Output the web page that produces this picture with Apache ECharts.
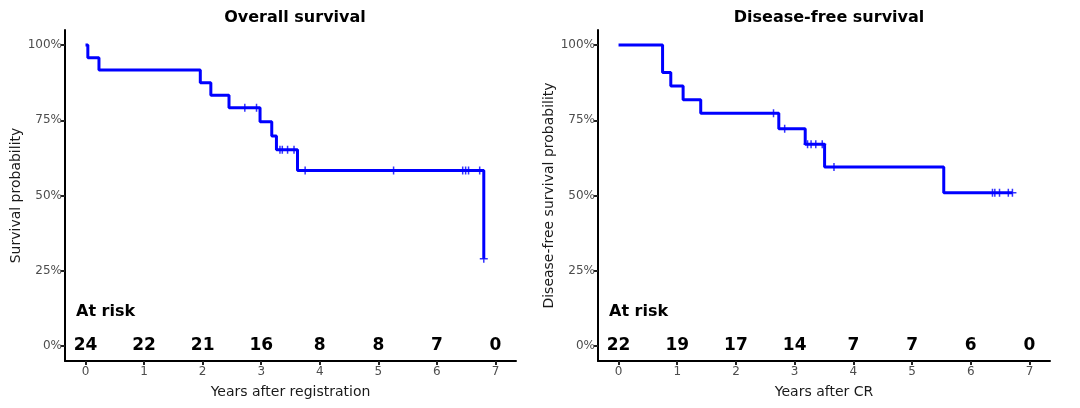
<!DOCTYPE html>
<html>
<head>
<meta charset="utf-8">
<script src="https://cdn.jsdelivr.net/npm/echarts@6/dist/echarts.min.js"></script>
<style>html,body{margin:0;padding:0;background:#fff}#c{width:1080px;height:408px}</style>
</head>
<body>
<div id="c"></div>
<script>
// ---- Overall survival ----
const osTimes = [0, 0.04, 0.23, 1.96, 2.14, 2.45, 2.98, 3.18, 3.26, 3.62, 6.80];
const osSurv  = [1, 0.958, 0.917, 0.875, 0.833, 0.792, 0.745, 0.698, 0.652, 0.583, 0.29];
const osCensorTimes = [2.72, 2.92, 3.32, 3.36, 3.45, 3.56, 3.75, 5.26, 6.44, 6.49, 6.54, 6.73, 6.80];
const osRiskTimes = [0, 1, 2, 3, 4, 5, 6, 7];
const osAtRisk = [24, 22, 21, 16, 8, 8, 7, 0];

// ---- Disease-free survival ----
const dfsTimes = [0, 0.75, 0.89, 1.10, 1.40, 2.73, 3.18, 3.51, 5.54, 6.71];
const dfsSurv  = [1, 0.909, 0.864, 0.818, 0.773, 0.722, 0.670, 0.595, 0.509, 0.509];
const dfsCensorTimes = [2.64, 2.83, 3.22, 3.28, 3.36, 3.47, 3.67, 6.37, 6.41, 6.49, 6.64, 6.71];
const dfsRiskTimes = [0, 1, 2, 3, 4, 5, 6, 7];
const dfsAtRisk = [22, 19, 17, 14, 7, 7, 6, 0];

const xTicks = [0, 1, 2, 3, 4, 5, 6, 7];
const yTicks = [0, 0.25, 0.5, 0.75, 1];

const BLUE = '#0000ff';
const FONT = 'DejaVu Sans';

function survAt(times, surv, t) {
  let v = surv[0];
  for (let i = 0; i < times.length; i++) { if (times[i] <= t) v = surv[i]; }
  return v;
}
function stepData(times, surv) { return times.map((t, i) => [t, surv[i]]); }
function censorData(times, surv, ct) { return ct.map(t => [t, survAt(times, surv, t)]); }
function riskData(rt, ar) { return rt.map((t, i) => [t, 0, ar[i]]); }

function xAxis(gi, name) {
  return {
    type: 'value', gridIndex: gi, min: -0.35, max: 7.35,
    name: name, nameLocation: 'middle', nameGap: 24,
    nameTextStyle: { fontFamily: FONT, fontSize: 14, color: '#1a1a1a' },
    axisLine: { show: true, onZero: false, lineStyle: { color: '#000', width: 2 } },
    axisTick: { show: true, inside: false, length: 4, customValues: xTicks, lineStyle: { color: '#222', width: 2 } },
    axisLabel: { customValues: xTicks, margin: 5, fontFamily: FONT, fontSize: 12, color: '#4d4d4d' },
    splitLine: { show: false }
  };
}
function yAxis(gi, name) {
  return {
    type: 'value', gridIndex: gi, min: -0.05, max: 1.05,
    name: name, nameLocation: 'middle', nameGap: 41, nameRotate: 90,
    nameTextStyle: { fontFamily: FONT, fontSize: 14, color: '#1a1a1a' },
    axisLine: { show: true, onZero: false, lineStyle: { color: '#000', width: 2 } },
    axisTick: { show: true, inside: false, length: 4, customValues: yTicks, lineStyle: { color: '#222', width: 2 } },
    axisLabel: { customValues: yTicks, margin: 3, fontFamily: FONT, fontSize: 12, color: '#4d4d4d',
      formatter: v => Math.round(v * 100) + '%' },
    splitLine: { show: false }
  };
}
const plusSymbol = 'path://M0,5L10,5M5,0L5,10';

function curveSeries(gi, times, surv, ct, rt, ar) {
  return [
    { type: 'line', xAxisIndex: gi, yAxisIndex: gi, step: 'end', showSymbol: false, silent: true,
      data: stepData(times, surv), lineStyle: { color: BLUE, width: 3 }, itemStyle: { color: BLUE }, z: 3 },
    { type: 'scatter', xAxisIndex: gi, yAxisIndex: gi, symbol: plusSymbol, symbolSize: 8, silent: true,
      data: censorData(times, surv, ct),
      itemStyle: { color: 'none', borderColor: BLUE, borderWidth: 1.5 }, z: 4 },
    { type: 'scatter', xAxisIndex: gi, yAxisIndex: gi, symbolSize: 0.1, silent: true,
      data: riskData(rt, ar), itemStyle: { color: '#fff', opacity: 1 },
      label: { show: true, position: 'inside', formatter: p => String(p.value[2]), opacity: 1,
        fontFamily: FONT, fontWeight: 'bold', fontSize: 17, color: '#000',
        textBorderWidth: 0, textBorderColor: 'transparent' }, z: 5 }
  ];
}

const chart = echarts.init(document.getElementById('c'), null, { renderer: 'canvas' });
chart.setOption({
  animation: false,
  backgroundColor: '#fff',
  title: [
    { text: 'Overall survival', left: 290, top: 5, textAlign: 'center',
      textStyle: { fontFamily: FONT, fontWeight: 'bold', fontSize: 16, color: '#000' } },
    { text: 'Disease-free survival', left: 824, top: 5, textAlign: 'center',
      textStyle: { fontFamily: FONT, fontWeight: 'bold', fontSize: 16, color: '#000' } },
    { text: 'At risk', left: 71, top: 299,
      textStyle: { fontFamily: FONT, fontWeight: 'bold', fontSize: 16, color: '#000' } },
    { text: 'At risk', left: 604, top: 299,
      textStyle: { fontFamily: FONT, fontWeight: 'bold', fontSize: 16, color: '#000' } }
  ],
  grid: [
    { left: 65, right: 564, top: 30, bottom: 47 },
    { left: 598, right: 30, top: 30, bottom: 47 }
  ],
  xAxis: [xAxis(0, 'Years after registration'), xAxis(1, 'Years after CR')],
  yAxis: [yAxis(0, 'Survival probability'), yAxis(1, 'Disease-free survival probability')],
  series: [
    ...curveSeries(0, osTimes, osSurv, osCensorTimes, osRiskTimes, osAtRisk),
    ...curveSeries(1, dfsTimes, dfsSurv, dfsCensorTimes, dfsRiskTimes, dfsAtRisk)
  ]
});
</script>
</body>
</html>
